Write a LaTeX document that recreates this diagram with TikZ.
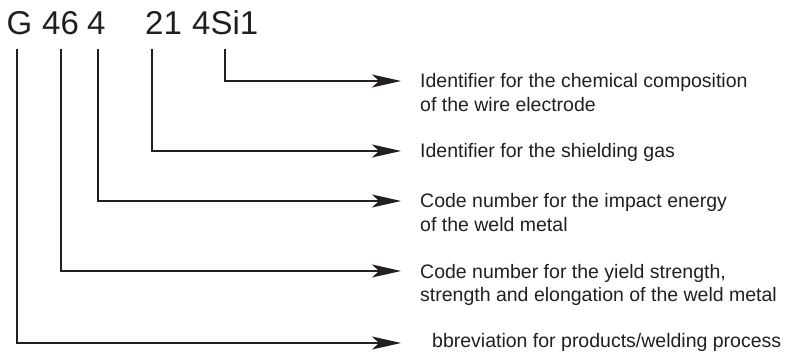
\documentclass[tikz,border=0pt]{standalone}
\usepackage{fontspec}
\setmainfont{Liberation Sans}
\usetikzlibrary{arrows.meta}
\definecolor{ink}{RGB}{35,31,32}
\tikzset{
  x=1pt, y=-1pt,
  code/.style={inner sep=0pt, anchor=base west, text=ink, font=\fontsize{33}{38}\selectfont},
  lbl/.style={inner sep=0pt, anchor=base west, align=left, text=ink, font=\fontsize{19.5}{23.5}\selectfont},
  conn/.style={draw=ink, line width=1.4pt, -{Stealth[length=29pt,width=13pt,inset=7pt]}}
}
\begin{document}
\begin{tikzpicture}
\useasboundingbox (0,0) rectangle (791,352);
% designation
\node[code] (g)    at (6.5,35) {G};
\node[code] (n46)  at (42,35)  {46};
\node[code] (n4)   at (87,35)  {4};
\node[code] (n21)  at (145,35) {21};
\node[code] (nsi)  at (192,35) {4Si1};
% line starts
\coordinate (s1) at (17,49);
\coordinate (s2) at (61,49);
\coordinate (s3) at (98,49);
\coordinate (s4) at (152,49);
\coordinate (s5) at (225,49);
% arrow tips
\coordinate (t5) at (401,81);
\coordinate (t4) at (401,151);
\coordinate (t3) at (401,201);
\coordinate (t2) at (401,271);
\coordinate (t1) at (401,343);
% labels (base anchor = baseline of the last line)
\node[lbl] (l5) at (420,111.5) {Identifier for the chemical composition\\of the wire electrode};
\node[lbl] (l4) at (420,158) {Identifier for the shielding gas};
\node[lbl] (l3) at (420,231.5) {Code number for the impact energy\\of the weld metal};
\node[lbl] (l2) at (420,301.5) {Code number for the yield strength,\\strength and elongation of the weld metal};
\node[lbl] (l1) at (432,347.5) {bbreviation for products/welding process};
% connectors
\draw[conn] (s5) |- (t5);
\draw[conn] (s4) |- (t4);
\draw[conn] (s3) |- (t3);
\draw[conn] (s2) |- (t2);
\draw[conn] (s1) |- (t1);
\end{tikzpicture}
\end{document}
